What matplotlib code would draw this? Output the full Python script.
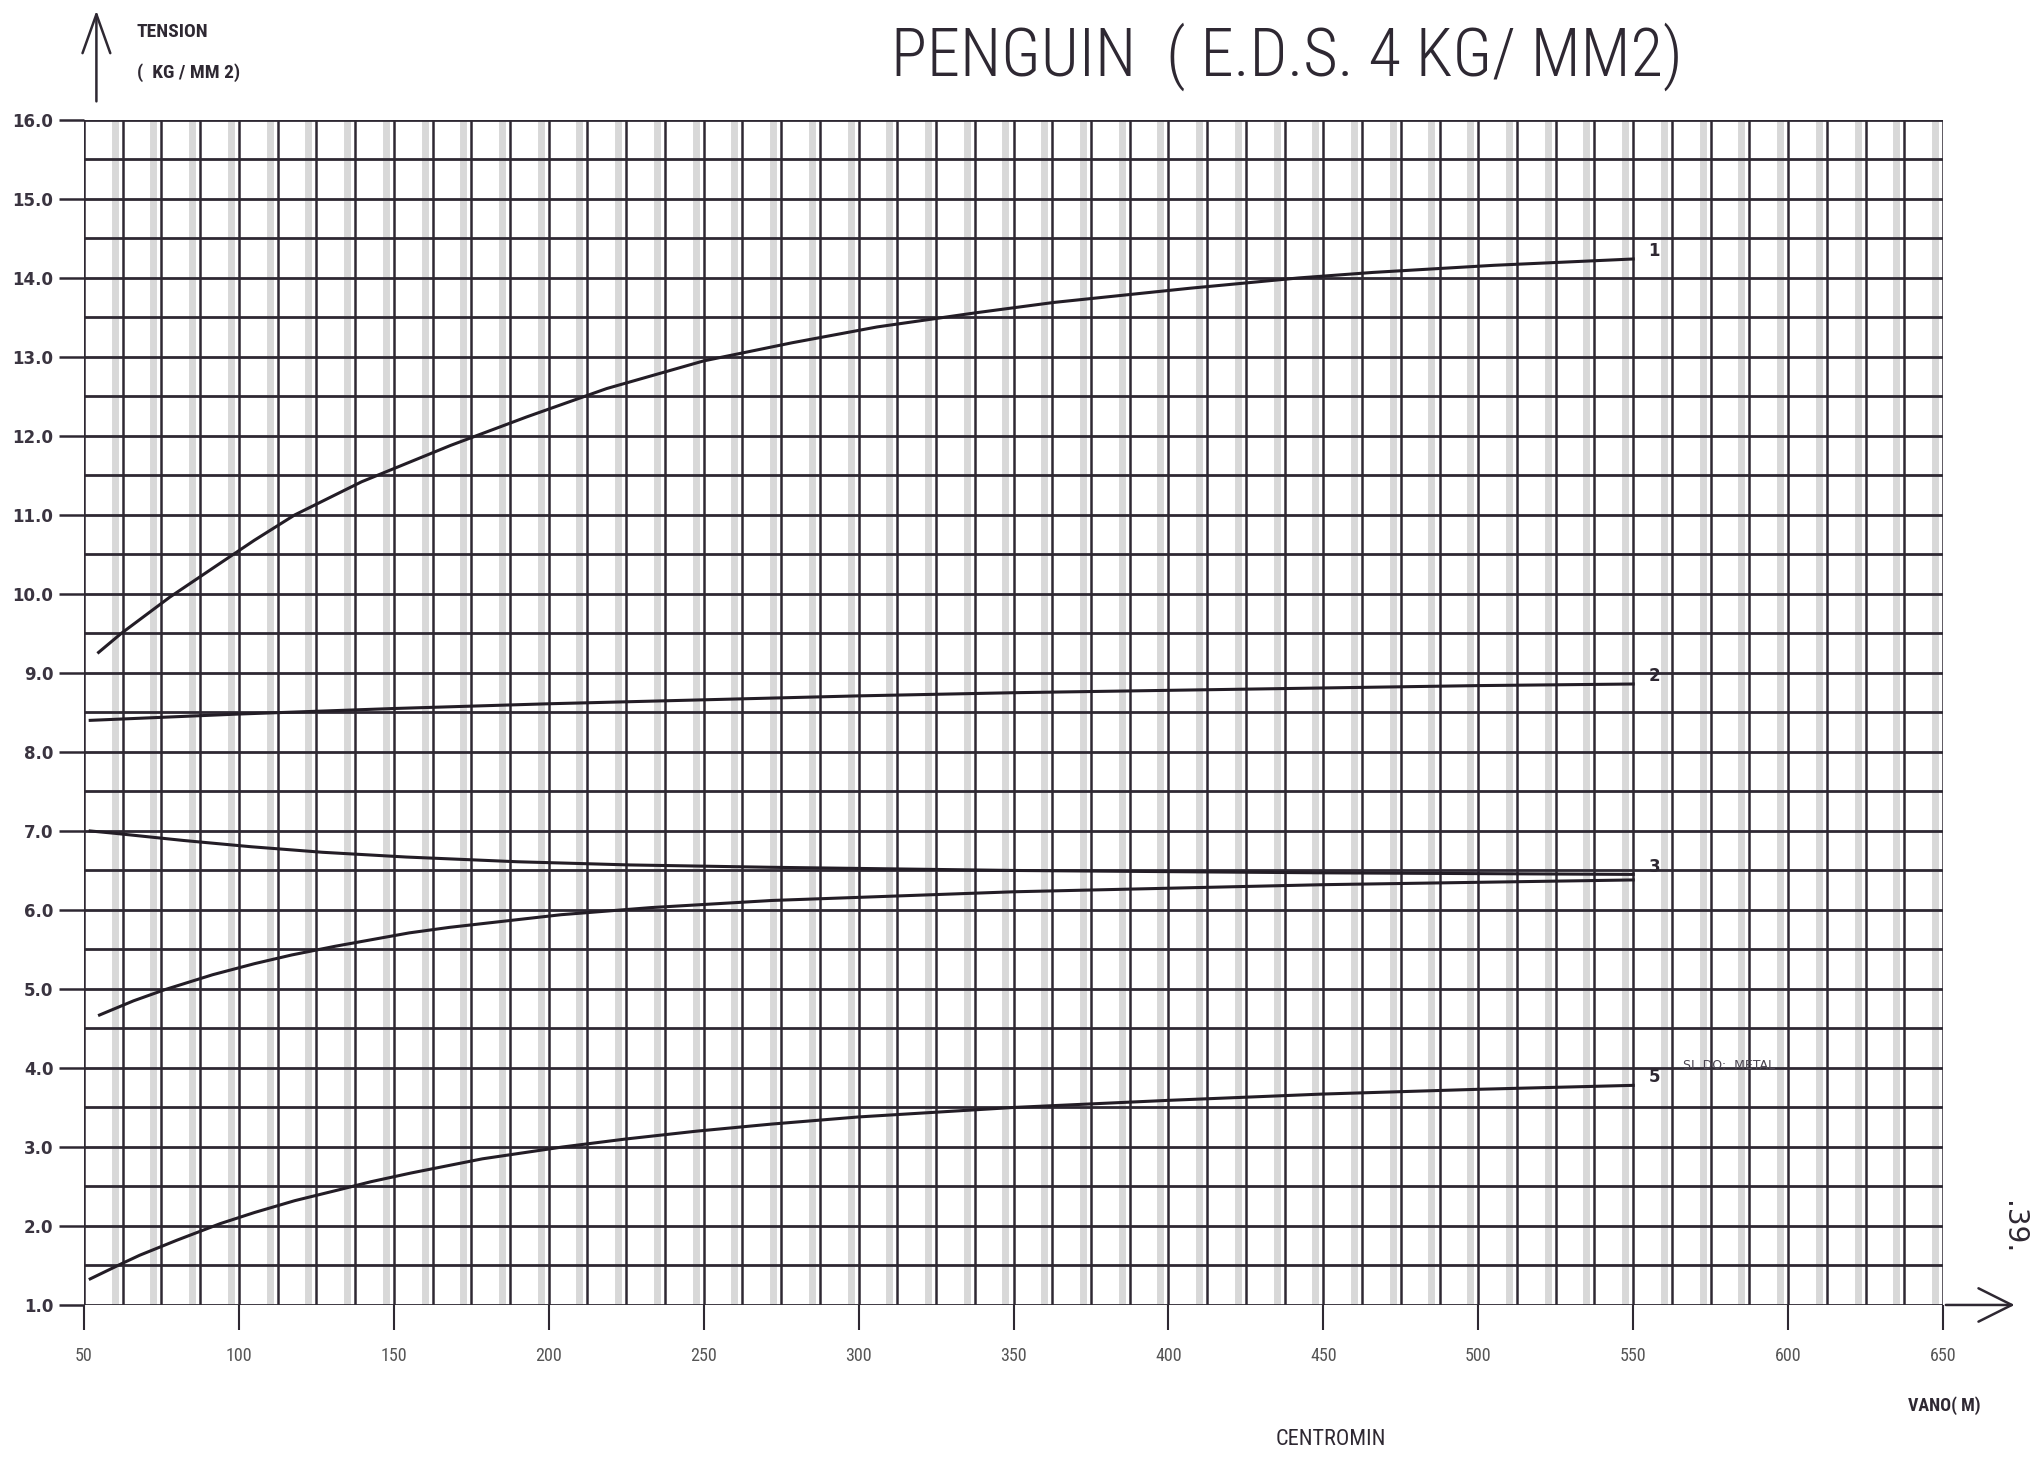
import numpy as np
import matplotlib
matplotlib.use('Agg')
import matplotlib.pyplot as plt
from matplotlib import font_manager

# curvas (vano en m, tension en kg/mm2)
x1 = [54.7, 62, 77.7, 93.6, 105, 118, 139.6, 168.3, 192.8, 218.7, 250, 278.6, 306, 338, 363, 407, 442, 466, 505, 550]
y1 = [9.26, 9.50, 9.96, 10.38, 10.68, 11.0, 11.42, 11.88, 12.24, 12.60, 12.95, 13.18, 13.38, 13.56, 13.69, 13.87, 14.0, 14.07, 14.16, 14.24]

x2 = [52, 100, 150, 200, 250, 300, 350, 400, 450, 500, 550]
y2 = [8.40, 8.48, 8.55, 8.61, 8.66, 8.71, 8.75, 8.78, 8.81, 8.84, 8.86]

x3 = [52, 60, 82, 104, 127, 154, 190, 226, 272, 350, 450, 550]
y3 = [7.0, 6.97, 6.88, 6.80, 6.73, 6.67, 6.61, 6.57, 6.54, 6.50, 6.47, 6.45]

x4 = [55, 66, 76, 91.5, 105, 117, 131, 155, 168, 204, 233, 272, 350, 450, 550]
y4 = [4.67, 4.85, 4.99, 5.18, 5.32, 5.43, 5.54, 5.71, 5.78, 5.94, 6.03, 6.12, 6.23, 6.32, 6.38]

x5 = [52, 62, 68, 80, 94, 105, 118, 132.5, 142.6, 155.5, 178.6, 204.5, 224.7, 247.7, 272, 300, 350, 400, 450, 500, 550]
y5 = [1.33, 1.52, 1.63, 1.82, 2.03, 2.17, 2.32, 2.46, 2.56, 2.67, 2.85, 3.0, 3.1, 3.2, 3.29, 3.38, 3.50, 3.59, 3.67, 3.73, 3.78]

etiquetas = ['1', '2', '3', '5']
curvas_etiq = [(x1, y1), (x2, y2), (x3, y3), (x5, y5)]

xticks = list(range(50, 651, 50))
yticks = [float(v) for v in range(1, 17)]

# fuente estrecha si existe
nombres = {f.name for f in font_manager.fontManager.ttflist}
fuente = 'DejaVu Sans'
for f in ['Liberation Sans Narrow', 'Roboto Condensed', 'Open Sans Condensed', 'Noto Sans Condensed']:
    if f in nombres:
        fuente = f
        break
estrecha = fuente != 'DejaVu Sans'

tinta = '#2e2832'

fig = plt.figure(figsize=(20.44, 14.61), dpi=100)
ax = fig.add_axes([0.0411, 0.1068, 0.9095, 0.8111])
ax.set_xlim(50, 650)
ax.set_ylim(1, 16)

# cuadricula
vert = np.arange(50, 650.1, 12.5)
for xv in vert[1:]:
    ax.axvline(xv - 2.6, color='#d8d8d8', lw=5, zorder=1)
for xv in vert:
    ax.axvline(xv, color=tinta, lw=1.8, zorder=2)
for yv in np.arange(1, 16.01, 0.5):
    ax.axhline(yv, color=tinta, lw=2.0, zorder=2)

# curvas
for xs, ys in [(x1, y1), (x2, y2), (x3, y3), (x4, y4), (x5, y5)]:
    ax.plot(xs, ys, color='#231d26', lw=2.2, zorder=3, solid_joinstyle='round')

for et, (xs, ys) in zip(etiquetas, curvas_etiq):
    ax.text(xs[-1] + 5, ys[-1] + 0.1, et, fontsize=12, fontweight='bold',
            color=tinta, ha='left', va='center', zorder=4)

ax.text(566, 4.03, 'SI  DO:  METAL', fontsize=9, color='#4a4450', ha='left', va='center')

for s in ax.spines.values():
    s.set_visible(False)

ax.set_xticks(xticks)
ax.set_yticks(yticks)
ax.set_xticklabels([str(v) for v in xticks], fontsize=13, color='#555555',
                   family=fuente)
ax.set_yticklabels(['%.1f' % v for v in yticks], fontsize=12, fontweight='bold',
                   color='#3a3440')
ax.tick_params(axis='x', direction='out', length=18, width=1.5, color=tinta, pad=12)
ax.tick_params(axis='y', direction='out', length=18, width=1.8, color=tinta, pad=4)

# flechas de ejes
ax.annotate('', xy=(54, 17.42), xytext=(54, 16.2), xycoords='data',
            annotation_clip=False,
            arrowprops=dict(arrowstyle='->,head_length=1.4,head_width=0.5',
                            color=tinta, lw=1.8, mutation_scale=20))
ax.annotate('', xy=(674, 1), xytext=(650, 1), xycoords='data',
            annotation_clip=False,
            arrowprops=dict(arrowstyle='->,head_length=1.2,head_width=0.6',
                            color=tinta, lw=1.8, mutation_scale=20))

# textos
if estrecha:
    fig.text(0.6297, 0.961, 'PENGUIN  ( E.D.S. 4 KG/ MM2)', fontsize=48,
             family=fuente, fontweight='light', color='#2e2832', ha='center', va='center')
else:
    fig.text(0.6297, 0.961, 'PENGUIN  ( E.D.S. 4 KG/ MM2)', fontsize=38,
             family=fuente, color='#2e2832', ha='center', va='center')
fig.text(0.067, 0.978, 'TENSION', fontsize=14, family=fuente, fontweight='bold',
         color=tinta, ha='left', va='center')
fig.text(0.067, 0.950, '(  KG / MM 2)', fontsize=14, family=fuente, fontweight='bold',
         color=tinta, ha='left', va='center')
fig.text(0.651, 0.015, 'CENTROMIN', fontsize=16, family=fuente, color=tinta,
         ha='center', va='center')
fig.text(0.951, 0.038, 'VANO( M)', fontsize=13, family=fuente, fontweight='bold',
         color=tinta, ha='center', va='center')
fig.text(0.985, 0.16, '.39.', fontsize=20, rotation=-90, color=tinta,
         ha='center', va='center')

fig.savefig('out.png', dpi=100)
